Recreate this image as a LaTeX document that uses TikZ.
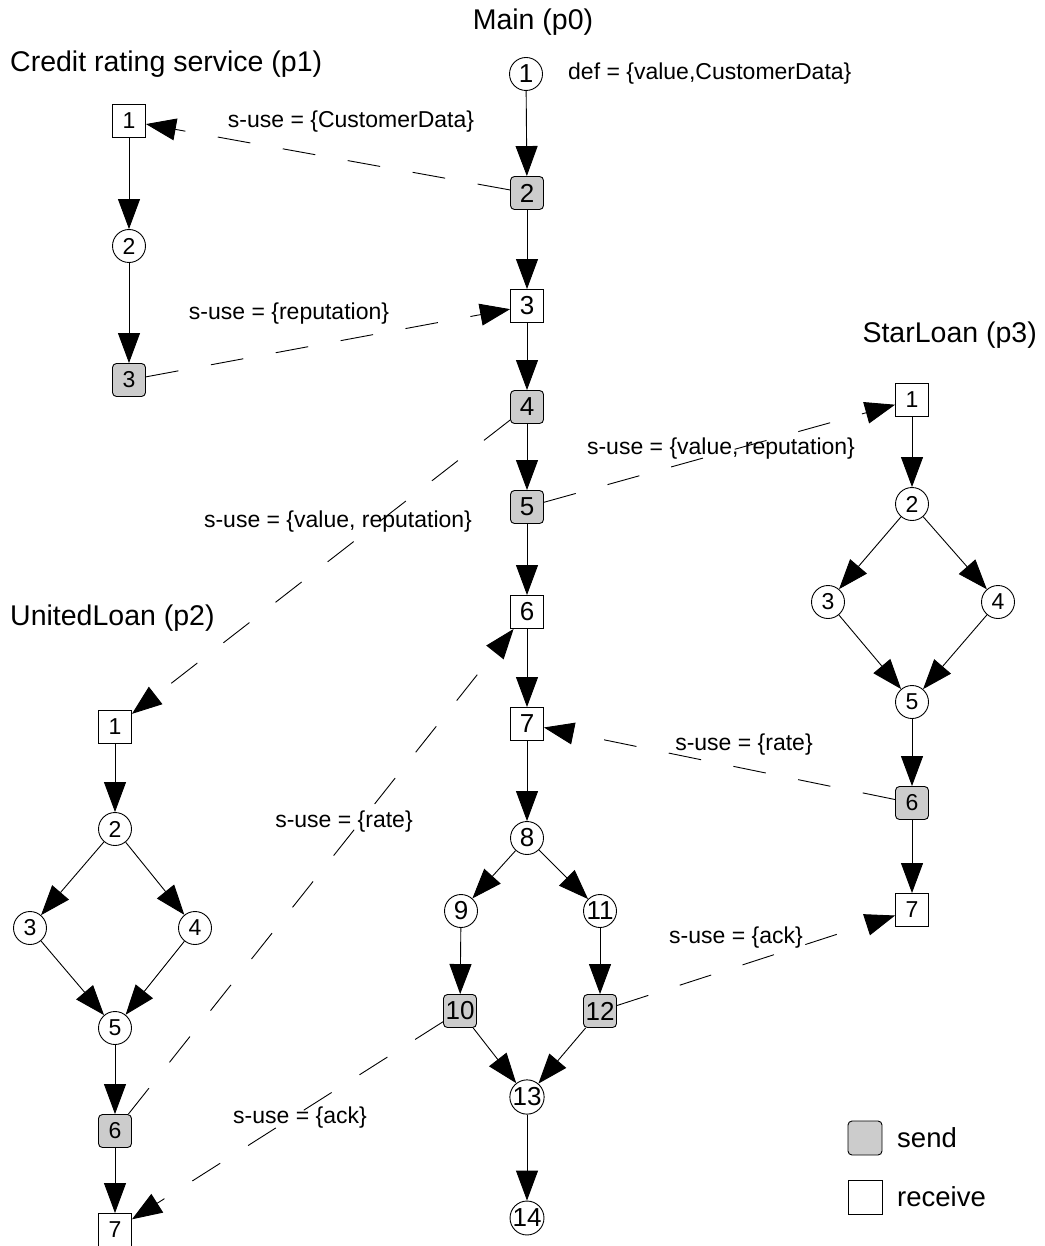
\documentclass[tikz,border=0pt]{standalone}
\usepackage{fontspec}
\setmainfont{Liberation Sans}
\usetikzlibrary{arrows.meta}
\definecolor{sendgrey}{gray}{0.8}
\begin{document}
\begin{tikzpicture}[x=1pt,y=-1pt,
  every node/.style={font=\fontsize{23}{27}\selectfont},
  st/.style={circle, draw, fill=white, minimum size=33pt, inner sep=0pt, line width=0.9pt},
  rcv/.style={rectangle, draw, fill=white, minimum size=33pt, inner sep=0pt, line width=0.9pt},
  snd/.style={rectangle, rounded corners=4pt, draw, fill=sendgrey, minimum size=33pt, inner sep=0pt, line width=0.9pt},
  big/.style={font=\fontsize{26}{30}\selectfont},
  flow/.style={-{Triangle[length=30pt,width=22pt]}, line width=0.9pt},
  msg/.style={flow, dash pattern=on 33pt off 33pt},
  lbl/.style={font=\fontsize{23}{27}\selectfont, inner sep=0pt},
  ttl/.style={font=\fontsize{28.5}{34}\selectfont, inner sep=0pt}]
\useasboundingbox (0,0) rectangle (1044,1246);
\clip (0,0) rectangle (1044,1246);

% ---------- Main (p0) ----------
\node[ttl] (t0) at (533,22) {Main (p0)};
\node[st,big]  (m1)  at (526,74)   {1};
\node[lbl, anchor=west] (def) at (568,74) {def = \{value,CustomerData\}};
\node[snd,big] (m2)  at (527,193)  {2};
\node[rcv,big] (m3)  at (527,306)  {3};
\node[snd,big] (m4)  at (527,407)  {4};
\node[snd,big] (m5)  at (527,507)  {5};
\node[rcv,big] (m6)  at (527,612)  {6};
\node[rcv,big] (m7)  at (527,724)  {7};
\node[st,big]  (m8)  at (527,838)  {8};
\node[st,big]  (m9)  at (461,911)  {9};
\node[st,big]  (m11) at (600,911)  {11};
\node[snd,big] (m10) at (460,1011) {10};
\node[snd,big] (m12) at (600,1011) {12};
\node[st,big]  (m13) at (527,1097) {13};
\node[st,big]  (m14) at (527,1218) {14};

\draw[flow] (m1) -- (m2);
\draw[flow] (m2) -- (m3);
\draw[flow] (m3) -- (m4);
\draw[flow] (m4) -- (m5);
\draw[flow] (m5) -- (m6);
\draw[flow] (m6) -- (m7);
\draw[flow] (m7) -- (m8);
\draw[flow] (m8) -- (m9);
\draw[flow] (m8) -- (m11);
\draw[flow] (m9) -- (m10);
\draw[flow] (m11) -- (m12);
\draw[flow] (m10) -- (m13);
\draw[flow] (m12) -- (m13);
\draw[flow] (m13) -- (m14);

% ---------- Credit rating service (p1) ----------
\node[ttl, anchor=west] (t1) at (10,64) {Credit rating service (p1)};
\node[rcv] (a1) at (129,121) {1};
\node[st]  (a2) at (129,246) {2};
\node[snd] (a3) at (129,380) {3};
\draw[flow] (a1) -- (a2);
\draw[flow] (a2) -- (a3);

% ---------- UnitedLoan (p2) ----------
\node[ttl, anchor=west] (t2) at (10,618) {UnitedLoan (p2)};
\node[rcv] (b1) at (115,727)  {1};
\node[st]  (b2) at (115,829)  {2};
\node[st]  (b3) at (30,928)   {3};
\node[st]  (b4) at (195,928)  {4};
\node[st]  (b5) at (115,1028) {5};
\node[snd] (b6) at (115,1131) {6};
\node[rcv] (b7) at (115,1230) {7};
\draw[flow] (b1) -- (b2);
\draw[flow] (b2) -- (b3);
\draw[flow] (b2) -- (b4);
\draw[flow] (b3) -- (b5);
\draw[flow] (b4) -- (b5);
\draw[flow] (b5) -- (b6);
\draw[flow] (b6) -- (b7);

% ---------- StarLoan (p3) ----------
\node[ttl, anchor=east] (t3) at (1037,335) {StarLoan (p3)};
\node[rcv] (c1) at (912,400) {1};
\node[st]  (c2) at (912,504) {2};
\node[st]  (c3) at (828,602) {3};
\node[st]  (c4) at (998,602) {4};
\node[st]  (c5) at (912,702) {5};
\node[snd] (c6) at (912,803) {6};
\node[rcv] (c7) at (912,910) {7};
\draw[flow] (c1) -- (c2);
\draw[flow] (c2) -- (c3);
\draw[flow] (c2) -- (c4);
\draw[flow] (c3) -- (c5);
\draw[flow] (c4) -- (c5);
\draw[flow] (c5) -- (c6);
\draw[flow] (c6) -- (c7);

% ---------- messages ----------
\draw[msg] (m2) -- (a1);
\node[lbl] (l1) at (351,122) {s-use = \{CustomerData\}};
\draw[msg] (a3) -- (m3);
\node[lbl] (l2) at (289,314) {s-use = \{reputation\}};
\draw[msg] (m4) -- (b1);
\node[lbl] (l3) at (338,522) {s-use = \{value, reputation\}};
\draw[msg] (m5) -- (c1);
\node[lbl] (l4) at (721,449) {s-use = \{value, reputation\}};
\draw[msg] (b6) -- (m6);
\node[lbl] (l5) at (344,822) {s-use = \{rate\}};
\draw[msg] (c6) -- (m7);
\node[lbl] (l6) at (744,745) {s-use = \{rate\}};
\draw[msg] (m12) -- (c7);
\node[lbl] (l7) at (736,938) {s-use = \{ack\}};
\draw[msg] (m10) -- (b7);
\node[lbl] (l8) at (300,1118) {s-use = \{ack\}};

% ---------- legend ----------
\node[snd, minimum size=34pt] (ks) at (865,1138) {};
\node[font=\fontsize{27.5}{32}\selectfont, anchor=west, inner sep=0pt] (ksl) at (897,1138) {send};
\node[rcv, minimum size=34pt] (kr) at (865,1197) {};
\node[font=\fontsize{27.5}{32}\selectfont, anchor=west, inner sep=0pt] (krl) at (897,1197) {receive};
\end{tikzpicture}
\end{document}
